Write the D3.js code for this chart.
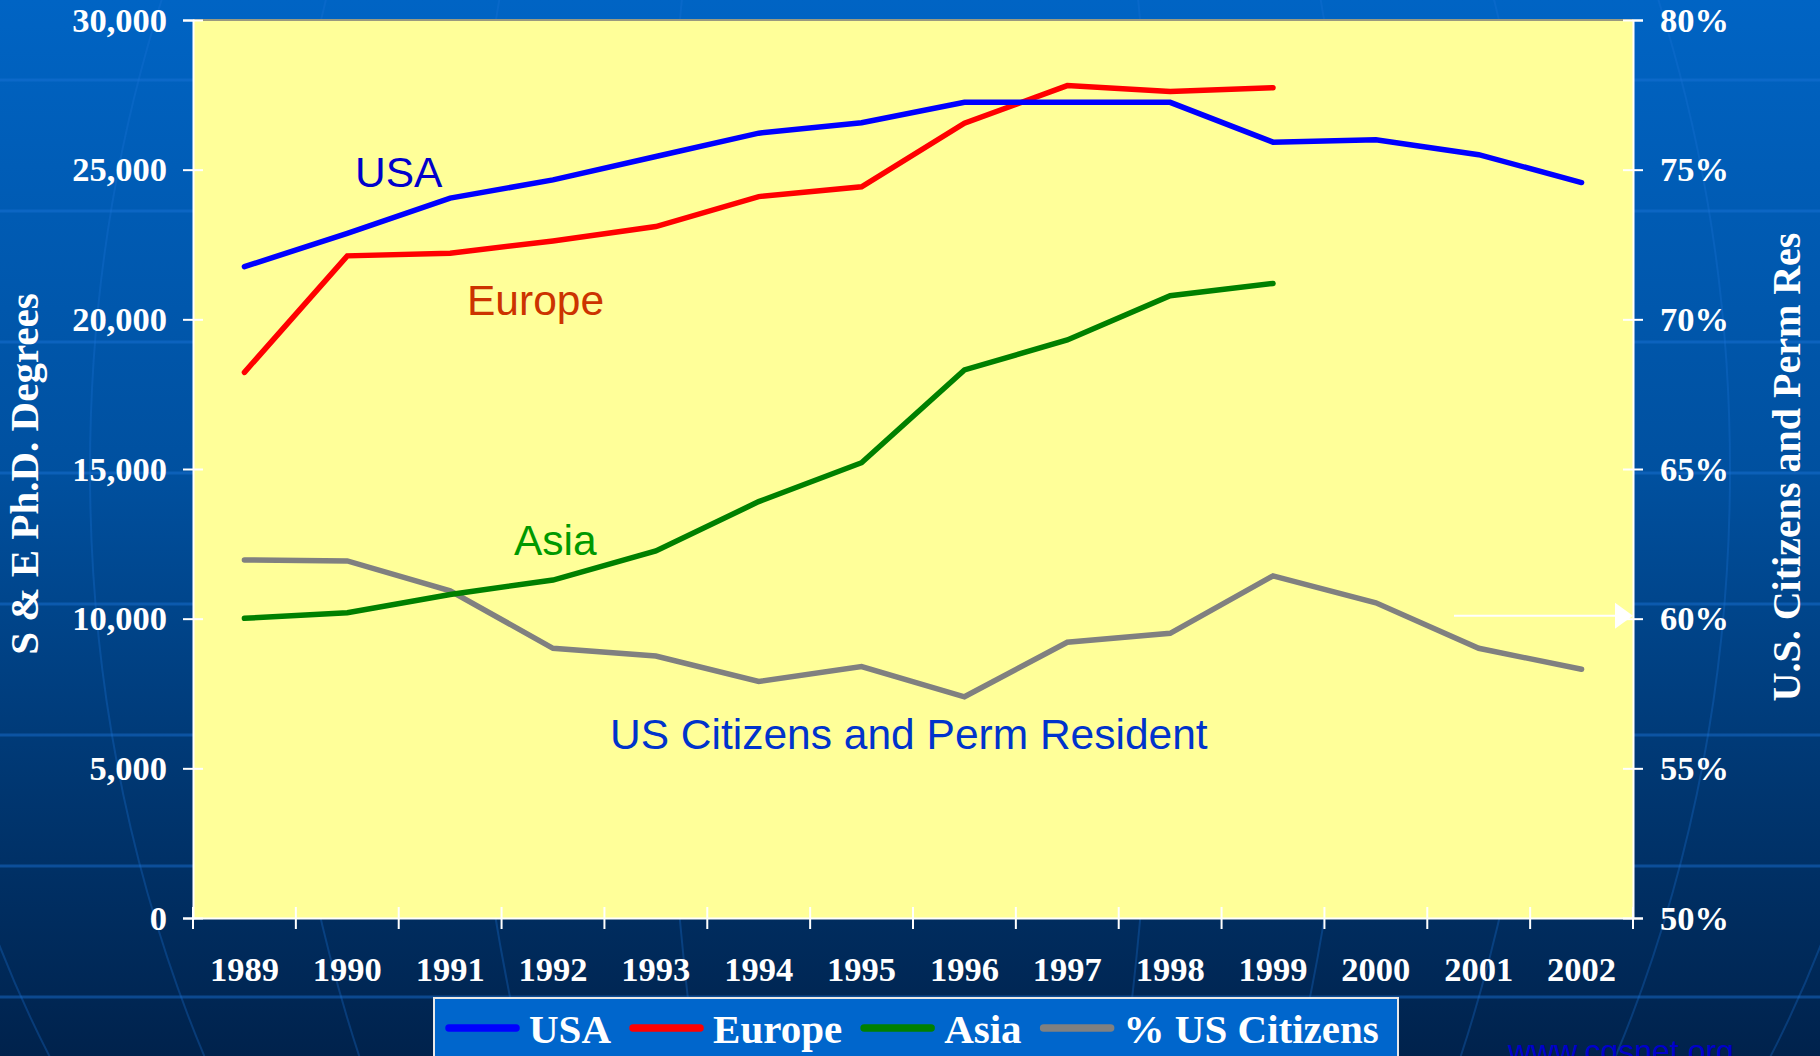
<!DOCTYPE html>
<html>
<head>
<meta charset="utf-8">
<script src="https://cdn.jsdelivr.net/npm/d3@7"></script>
<style>
  html, body { margin: 0; padding: 0; background: #003a78; }
  svg { display: block; }
</style>
</head>
<body>
<div id="chart"></div>
<script>
// data
const years = ["1989", "1990", "1991", "1992", "1993", "1994", "1995",
  "1996", "1997", "1998", "1999", "2000", "2001", "2002"];
const usa = [21760, 22870, 24050, 24660, 25440, 26220, 26570, 27250, 27250, 27250, 25920, 26000, 25500, 24570];
const europe = [18230, 22120, 22210, 22620, 23100, 24100, 24430, 26550, 27810, 27610, 27740];
const asia = [10010, 10200, 10810, 11290, 12260, 13910, 15210, 18310, 19310, 20790, 21200];
const pctUS = [61.96, 61.93, 60.93, 59.01, 58.75, 57.9, 58.4, 57.39, 59.21, 59.51, 61.43, 60.53, 59.01, 58.31];
const leftTicks = [0, 5000, 10000, 15000, 20000, 25000, 30000];
const rightTicks = [50, 55, 60, 65, 70, 75, 80];
const seriesNames = ["USA", "Europe", "Asia", "% US Citizens"];
const seriesColors = ["#0000ff", "#ff0000", "#008000", "#808080"];

const W = 1820, H = 1056;
const plot = {left: 193, right: 1633, top: 20, bottom: 918};

const svg = d3.select("#chart").append("svg")
  .attr("width", W)
  .attr("height", H);

// background gradient
const defs = svg.append("defs");
const grad = defs.append("linearGradient")
  .attr("id", "bg").attr("x1", 0).attr("y1", 0).attr("x2", 0).attr("y2", 1);
grad.append("stop").attr("offset", "0%").attr("stop-color", "#0064c4");
grad.append("stop").attr("offset", "45%").attr("stop-color", "#00509f");
grad.append("stop").attr("offset", "75%").attr("stop-color", "#003670");
grad.append("stop").attr("offset", "100%").attr("stop-color", "#00224c");
svg.append("rect").attr("width", W).attr("height", H).attr("fill", "url(#bg)");

// faint globe lines in the backdrop
const deco = svg.append("g").attr("fill", "none").attr("stroke", "#1b74d6").attr("stroke-opacity", 0.45).attr("stroke-width", 3);
d3.range(80, H, 131).forEach(yy => {
  deco.append("line").attr("x1", 0).attr("x2", W).attr("y1", yy).attr("y2", yy);
});
[1000, 820, 640, 450, 250].forEach(rx => {
  deco.append("ellipse").attr("cx", 910).attr("cy", 470).attr("rx", rx).attr("ry", 1150)
    .attr("stroke-opacity", 0.3).attr("stroke-width", 2);
});

// scales
const x = d3.scaleBand().domain(years).range([plot.left, plot.right]).padding(0);
const yL = d3.scaleLinear().domain([0, 30000]).range([plot.bottom, plot.top]);
const yR = d3.scaleLinear().domain([50, 80]).range([plot.bottom, plot.top]);
const cx = d => x(d) + x.bandwidth() / 2;

// plot area
svg.append("rect")
  .attr("x", plot.left).attr("y", plot.top)
  .attr("width", plot.right - plot.left).attr("height", plot.bottom - plot.top)
  .attr("fill", "#ffff99");
svg.append("line")
  .attr("x1", plot.left).attr("x2", plot.right)
  .attr("y1", plot.top).attr("y2", plot.top)
  .attr("stroke", "#9a9a80").attr("stroke-width", 2);

const serif = "'Liberation Serif', 'Times New Roman', serif";
const sans = "'Liberation Sans', Arial, sans-serif";

// left axis
const gL = svg.append("g")
  .attr("transform", `translate(${plot.left},0)`)
  .call(d3.axisLeft(yL).tickValues(leftTicks).tickFormat(d3.format(",")).tickSize(10).tickPadding(16));
gL.selectAll(".tick line").attr("x1", 10);

// right axis
const gR = svg.append("g")
  .attr("transform", `translate(${plot.right},0)`)
  .call(d3.axisRight(yR).tickValues(rightTicks).tickFormat(d => d + "%").tickSize(10).tickPadding(17));
gR.selectAll(".tick line").attr("x1", -10);

// bottom axis: labels centred in bands, ticks on band edges
const gB = svg.append("g")
  .attr("transform", `translate(0,${plot.bottom})`)
  .call(d3.axisBottom(x).tickSize(0).tickPadding(39));
gB.selectAll(".tick line").remove();
gB.selectAll(".edge")
  .data(years.concat(["end"]))
  .enter().append("line")
  .attr("class", "edge")
  .attr("x1", d => d === "end" ? plot.right : x(d))
  .attr("x2", d => d === "end" ? plot.right : x(d))
  .attr("y1", -11).attr("y2", 11)
  .attr("stroke", "#fff").attr("stroke-width", 2);

[gL, gR, gB].forEach(g => {
  g.select(".domain").attr("stroke", "#fff").attr("stroke-width", 2);
  g.selectAll(".tick line").attr("stroke", "#fff").attr("stroke-width", 2);
  g.selectAll("text")
    .attr("fill", "#fff")
    .style("font-family", serif)
    .style("font-weight", "bold")
    .style("font-size", "34.5px");
});

// lines
const line = (scale) => d3.line().x((d, i) => cx(years[i])).y(d => scale(d));
const series = [
  {vals: usa, scale: yL, color: seriesColors[0]},
  {vals: europe, scale: yL, color: seriesColors[1]},
  {vals: asia, scale: yL, color: seriesColors[2]},
  {vals: pctUS, scale: yR, color: seriesColors[3]}
];
svg.append("g").selectAll("path")
  .data(series.slice().reverse())
  .enter().append("path")
  .attr("d", s => line(s.scale)(s.vals))
  .attr("fill", "none")
  .attr("stroke", s => s.color)
  .attr("stroke-width", 5.5)
  .attr("stroke-linejoin", "miter")
  .attr("stroke-linecap", "round");

// in-plot labels
const labels = [
  {t: "USA", x: 355, y: 187, c: "#0000cc"},
  {t: "Europe", x: 467, y: 315, c: "#cc3300"},
  {t: "Asia", x: 514, y: 555, c: "#009900"},
  {t: "US Citizens and Perm Resident", x: 610, y: 749, c: "#0033cc"}
];
svg.append("g").selectAll("text")
  .data(labels)
  .enter().append("text")
  .attr("x", d => d.x).attr("y", d => d.y)
  .attr("fill", d => d.c)
  .style("font-family", sans)
  .style("font-size", "42.5px")
  .text(d => d.t);

// arrow pointing at the right axis
const ay = yR(60.1);
svg.append("line")
  .attr("x1", 1454).attr("x2", 1618).attr("y1", ay).attr("y2", ay)
  .attr("stroke", "#fff").attr("stroke-width", 2);
svg.append("path")
  .attr("d", `M${plot.right},${ay} L${plot.right - 18},${ay - 13} L${plot.right - 18},${ay + 13} Z`)
  .attr("fill", "#fff");

// axis titles
svg.append("text")
  .attr("transform", "translate(38,474) rotate(-90)")
  .attr("text-anchor", "middle")
  .attr("fill", "#fff")
  .style("font-family", serif).style("font-weight", "bold").style("font-size", "41px")
  .text("S & E Ph.D. Degrees");
svg.append("text")
  .attr("transform", "translate(1800,467) rotate(-90)")
  .attr("text-anchor", "middle")
  .attr("fill", "#fff")
  .style("font-family", serif).style("font-weight", "bold").style("font-size", "40px")
  .text("U.S. Citizens and Perm Res");

// legend
const lg = svg.append("g");
lg.append("rect")
  .attr("x", 434).attr("y", 998).attr("width", 964).attr("height", 80)
  .attr("fill", "#0066cc").attr("stroke", "#e8e8e8").attr("stroke-width", 2);
let lx = 445;
seriesNames.forEach((name, i) => {
  lg.append("line")
    .attr("x1", lx + 4).attr("x2", lx + 71).attr("y1", 1028).attr("y2", 1028)
    .attr("stroke", seriesColors[i]).attr("stroke-width", 7.5).attr("stroke-linecap", "round");
  const t = lg.append("text")
    .attr("x", lx + 84).attr("y", 1043)
    .attr("fill", "#fff")
    .style("font-family", serif).style("font-weight", "bold").style("font-size", "41px")
    .text(name);
  lx = lx + 84 + t.node().getComputedTextLength() + 18;
});

// source
svg.append("text")
  .attr("x", 1508).attr("y", 1062)
  .attr("fill", "#0000cc")
  .style("font-family", sans).style("font-size", "32px")
  .text("www.cgsnet.org");
</script>
</body>
</html>
